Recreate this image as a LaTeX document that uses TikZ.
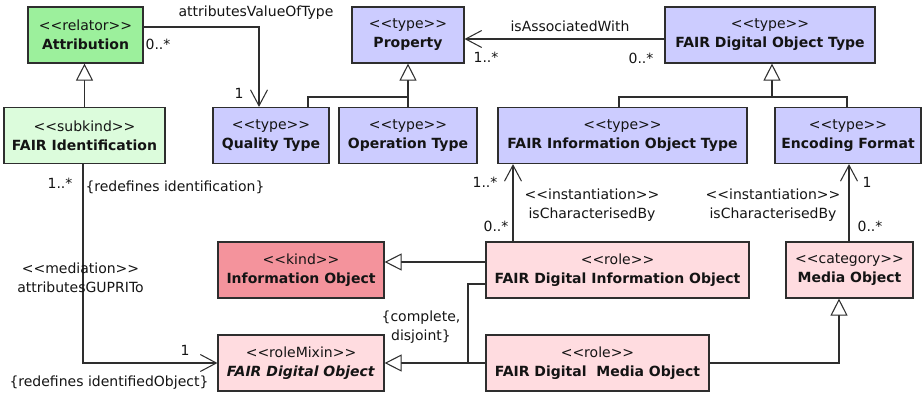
\documentclass[tikz,border=0pt]{standalone}
\usepackage{fontspec}
\setmainfont{DejaVu Sans}
\usetikzlibrary{arrows.meta}
\definecolor{cAttr}{HTML}{9CF09C}
\definecolor{cFid}{HTML}{DCFCDC}
\definecolor{cType}{HTML}{CCCCFF}
\definecolor{cIO}{HTML}{F4939C}
\definecolor{cRole}{HTML}{FFDCE0}
\definecolor{cLine}{HTML}{2E2E2E}
\definecolor{cText}{HTML}{141414}
\newcommand\st[1]{<{}<#1>{}>}
\begin{document}
\begin{tikzpicture}[x=1pt,y=-1pt,
  box/.style={draw=cLine, line width=1.15pt, minimum height=56pt, inner sep=0pt, align=center,
    font=\fontsize{14}{19}\selectfont, text=cText},
  conn/.style={draw=cLine, line width=1.05pt},
  gen/.style={conn, -{Triangle[open,length=17pt,width=17pt,fill=white]}},
  assoc/.style={conn, -{Straight Barb[length=16pt,width=17pt]}},
  lbl/.style={font=\fontsize{14}{19}\selectfont, text=cText, inner sep=0pt, align=center}]
\useasboundingbox (0,0) rectangle (924,397);
% boxes
\node[box,fill=cAttr,minimum width=115pt] (attr) at (85.5,35) {\st{relator}\\\textbf{Attribution}};
\node[box,fill=cFid,minimum width=161pt] (fid) at (84.5,135.5) {\st{subkind}\\\textbf{FAIR Identification}};
\node[box,fill=cType,minimum width=116pt] (qt) at (271,135.5) {\st{type}\\\textbf{Quality Type}};
\node[box,fill=cType,minimum width=138pt] (ot) at (408,135.5) {\st{type}\\\textbf{Operation Type}};
\node[box,fill=cType,minimum width=112pt] (prop) at (408,35) {\st{type}\\\textbf{Property}};
\node[box,fill=cType,minimum width=249pt] (fiot) at (622.5,135.5) {\st{type}\\\textbf{FAIR Information Object Type}};
\node[box,fill=cType,minimum width=146pt] (ef) at (848,135.5) {\st{type}\\\textbf{Encoding Format}};
\node[box,fill=cType,minimum width=210pt] (fdot) at (770,35) {\st{type}\\\textbf{FAIR Digital Object Type}};
\node[box,fill=cIO,minimum width=166pt] (io) at (301,270) {\st{kind}\\\textbf{Information Object}};
\node[box,fill=cRole,minimum width=166pt] (fdo) at (301,363) {\st{roleMixin}\\\textbf{\itshape FAIR Digital Object}};
\node[box,fill=cRole,minimum width=263pt] (fdio) at (617.5,270) {\st{role}\\\textbf{FAIR Digital Information Object}};
\node[box,fill=cRole,minimum width=127pt] (mo) at (849.5,270) {\st{category}\\\textbf{Media Object}};
\node[box,fill=cRole,minimum width=223pt] (fdmo) at (597.5,363) {\st{role}\\\textbf{FAIR Digital\ \ Media Object}};
% helper coordinates
\coordinate (jp) at (408,97);
\coordinate (jf) at (772,97);
\coordinate (cq) at (308,0);
\coordinate (cf) at (619,0);
\coordinate (ce) at (847,0);
\coordinate (ce2) at (849,0);
\coordinate (ci) at (513,0);
\coordinate (cm) at (839,0);
\coordinate (cv) at (259,0);
\coordinate (cmed) at (83,0);
\coordinate (jg) at (468,363);
\coordinate (a0) at ([yshift=8pt]attr.east);
\coordinate (a1) at ([yshift=-4pt]fdot.west);
\coordinate (a2) at ([yshift=8pt]fdio.west);
\coordinate (a3) at ([yshift=-14pt]fdio.west);
% generalizations
\draw[gen] (fid.north) -- (fid.north |- attr.south);
\draw[gen] (ot.north) -- (prop.south);
\draw[conn] (qt.north -| cq) |- (jp);
\draw[gen] (jf) -- (jf |- fdot.south);
\draw[conn, line width=1.9pt] (jf) -- ++(0,-15);
\draw[conn] (fiot.north -| cf) |- (jf) -| (ef.north -| ce);
\draw[gen] (a2) -- (a2 -| io.east);
\draw[conn] (a3) -| (jg);
\draw[gen] (fdmo.west) -- (fdo.east);
\draw[conn, line width=1.9pt] (jg) -- ([xshift=17pt]fdo.east);
\draw[gen] (fdmo.east) -| (mo.south -| cm);
% associations
\draw[assoc] (a0) -| (qt.north -| cv);
\draw[assoc] (a1) -- (a1 -| prop.east);
\draw[assoc] (fid.south -| cmed) |- (fdo.west);
\draw[assoc] (fdio.north -| ci) -- (fiot.south -| ci);
\draw[assoc] (mo.north -| ce2) -- (ef.south -| ce2);
% labels
\node[lbl] (l1) at (256,13) {attributesValueOfType};
\node[lbl] (l2) at (158,44) {0..*};
\node[lbl] (l3) at (239,93) {1};
\node[lbl] (l4) at (570,26) {isAssociatedWith};
\node[lbl] (l5) at (486,57) {1..*};
\node[lbl] (l6) at (641,58) {0..*};
\node[lbl] (l7) at (60,183) {1..*};
\node[lbl] (l8) at (175,187) {\{redefines identification\}};
\node[lbl] (l9) at (80.5,278) {\st{mediation}\\attributesGUPRITo};
\node[lbl] (l10) at (185,350) {1};
\node[lbl] (l11) at (109,383) {\{redefines identifiedObject\}};
\node[lbl] (l12) at (421,327) {\{complete,\\disjoint\}};
\node[lbl] (l13) at (485,182) {1..*};
\node[lbl] (l14) at (592,205) {\st{instantiation}\\isCharacterisedBy};
\node[lbl] (l15) at (496,226) {0..*};
\node[lbl] (l16) at (867,182) {1};
\node[lbl] (l17) at (773,205) {\st{instantiation}\\isCharacterisedBy};
\node[lbl] (l18) at (870,226) {0..*};
\end{tikzpicture}
\end{document}
